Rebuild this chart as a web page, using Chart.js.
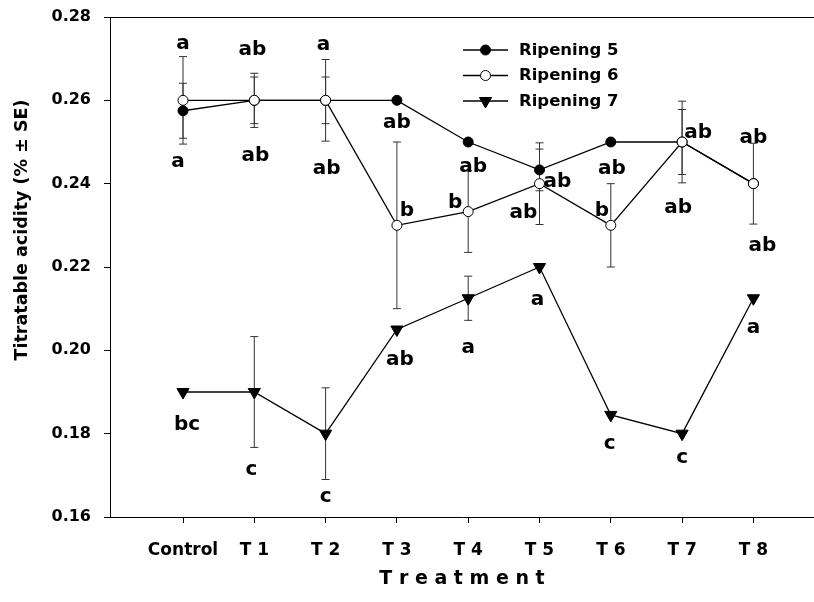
<!DOCTYPE html>
<html>
<head>
<meta charset="utf-8">
<script src="https://cdn.jsdelivr.net/npm/chart.js@4.4.1/dist/chart.umd.min.js"></script>
<style>
  html, body { margin: 0; padding: 0; background: #fff; overflow: hidden; }
  #wrap { width: 814px; height: 602px; position: relative; }
  canvas { display: block; }
</style>
</head>
<body>
<div id="wrap"><canvas id="acid_chart"></canvas></div>
<script>
// data
const treatments = ["Control", "T 1", "T 2", "T 3", "T 4", "T 5", "T 6", "T 7", "T 8"];
const yTicks = [0.16, 0.18, 0.20, 0.22, 0.24, 0.26, 0.28];

const ripening5 = [0.2575, 0.26, 0.26, 0.26, 0.25, 0.2433, 0.25, 0.25, 0.24];
const ripening5Err = [0.0066, 0.0056, 0.0056, 0, 0, 0.005, 0, 0.0078, 0];
const ripening5Letters = ["a", "ab", "ab", "ab", "ab", "ab", "ab", "ab", "ab"];

const ripening6 = [0.26, 0.26, 0.26, 0.23, 0.2333, 0.24, 0.23, 0.25, 0.24];
const ripening6Err = [0.0105, 0.0065, 0.0098, 0.02, 0.0098, 0.0098, 0.01, 0.0098, 0.0097];
const ripening6Letters = ["a", "ab", "a", "b", "b", "ab", "b", "ab", "ab"];

const ripening7 = [0.19, 0.19, 0.18, 0.205, 0.2125, 0.22, 0.1845, 0.18, 0.2125];
const ripening7Err = [0, 0.0133, 0.011, 0, 0.0053, 0, 0, 0, 0];
const ripening7Letters = ["bc", "c", "c", "ab", "a", "a", "c", "c", "a"];

// where each letter sits relative to its point (px)
const offsets5 = [[-5, 51], [1, 53], [1, 66], [0, 20], [5, 22], [18, 10], [1, 24], [16, -12], [0, -48]];
const offsets6 = [[0, -57], [-2, -53], [-2, -56], [10, -17], [-13, -11], [-16, 27], [-9, -17], [-4, 63], [9, 60]];
const offsets7 = [[4, 30], [-3, 77], [0, 63], [3, 28], [0, 49], [-2, 32], [-1, 29], [0, 24], [0, 29]];

const FONT = '"DejaVu Sans", sans-serif';
const toPoints = arr => arr.map((v, i) => ({ x: i, y: v }));

const extras = [
  { err: ripening5Err, letters: ripening5Letters, off: offsets5 },
  { err: ripening6Err, letters: ripening6Letters, off: offsets6 },
  { err: ripening7Err, letters: ripening7Letters, off: offsets7 }
];

const errorBars = {
  id: 'errorBars',
  beforeDatasetsDraw(chart) {
    const ctx = chart.ctx
    const ys = chart.scales.y
    ctx.save()
    ctx.strokeStyle = '#333'
    ctx.lineWidth = 1
    chart.data.datasets.forEach((ds, di) => {
      const meta = chart.getDatasetMeta(di)
      extras[di].err.forEach((e, i) => {
        if (!e) return
        const v = ds.data[i].y
        const x = meta.data[i].x
        const top = ys.getPixelForValue(v + e)
        const bot = ys.getPixelForValue(v - e)
        ctx.beginPath()
        ctx.moveTo(x, top); ctx.lineTo(x, bot)
        ctx.moveTo(x - 4, top); ctx.lineTo(x + 4, top)
        ctx.moveTo(x - 4, bot); ctx.lineTo(x + 4, bot)
        ctx.stroke()
      })
    })
    ctx.restore()
  }
};

function centeredText(ctx, txt, cx, cy) {
  const m = ctx.measureText(txt)
  const asc = m.actualBoundingBoxAscent, desc = m.actualBoundingBoxDescent
  ctx.fillText(txt, cx, cy + (asc - desc) / 2)
}

const decorations = {
  id: 'decorations',
  afterDraw(chart) {
    const ctx = chart.ctx
    const area = chart.chartArea
    ctx.save()

    // top frame line
    ctx.strokeStyle = '#000'
    ctx.lineWidth = 1
    ctx.beginPath()
    ctx.moveTo(area.left, area.top + 0.5)
    ctx.lineTo(area.right, area.top + 0.5)
    ctx.stroke()

    // significance letters
    ctx.fillStyle = '#000'
    ctx.textAlign = 'center'
    ctx.textBaseline = 'alphabetic'
    ctx.font = 'bold 20px ' + FONT
    extras.forEach((ex, di) => {
      const meta = chart.getDatasetMeta(di)
      ex.letters.forEach((l, i) => {
        const p = meta.data[i]
        centeredText(ctx, l, p.x + ex.off[i][0], p.y + ex.off[i][1])
      })
    })

    // legend
    const lx1 = area.left + 353, lx2 = area.left + 398
    chart.data.datasets.forEach((ds, di) => {
      const y = area.top + 33 + di * 25.5
      ctx.strokeStyle = '#000'
      ctx.lineWidth = 1.3
      ctx.beginPath()
      ctx.moveTo(lx1, y); ctx.lineTo(lx2, y)
      ctx.stroke()
      ctx.fillStyle = ds.pointBackgroundColor
      ctx.strokeStyle = '#000'
      ctx.lineWidth = 1
      Chart.helpers.drawPoint(ctx, {
        pointStyle: ds.pointStyle, radius: ds.pointRadius,
        rotation: ds.pointRotation || 0, borderWidth: 1
      }, (lx1 + lx2) / 2, y)
      ctx.fillStyle = '#000'
      ctx.textAlign = 'left'
      ctx.font = 'bold 16.5px ' + FONT
      const m = ctx.measureText(ds.label)
      ctx.fillText(ds.label, lx2 + 11, y + (m.actualBoundingBoxAscent - m.actualBoundingBoxDescent) / 2)
    })

    // axis titles
    ctx.textAlign = 'center'
    ctx.font = 'bold 19px ' + FONT
    centeredText(ctx, 'T r e a t m e n t', (area.left + area.right) / 2, 577)
    ctx.translate(22, 230)
    ctx.rotate(-Math.PI / 2)
    ctx.font = 'bold 17.5px ' + FONT
    centeredText(ctx, 'Titratable acidity (% \u00B1 SE)', 0, 0)
    ctx.restore()
  }
};

const ctx = document.getElementById('acid_chart').getContext('2d')

let acidChart = new Chart(ctx, {
  type: 'line',
  data: {
    datasets: [
      {
        label: 'Ripening 5', data: toPoints(ripening5), order: 1,
        borderColor: '#000', borderWidth: 1.3,
        pointStyle: 'circle', pointRadius: 5, pointBackgroundColor: '#000',
        pointBorderColor: '#000', pointBorderWidth: 1
      },
      {
        label: 'Ripening 6', data: toPoints(ripening6), order: 0,
        borderColor: '#000', borderWidth: 1.3,
        pointStyle: 'circle', pointRadius: 5, pointBackgroundColor: '#fff',
        pointBorderColor: '#000', pointBorderWidth: 1
      },
      {
        label: 'Ripening 7', data: toPoints(ripening7), order: 2,
        borderColor: '#000', borderWidth: 1.3,
        pointStyle: 'triangle', pointRotation: 180, pointRadius: 7,
        pointBackgroundColor: '#000', pointBorderColor: '#000', pointBorderWidth: 1
      }
    ]
  },
  options: {
    responsive: true,
    maintainAspectRatio: false,
    animation: false,
    layout: { autoPadding: false, padding: { top: 17, left: 0, right: 0, bottom: 0 } },
    plugins: {
      legend: { display: false },
      tooltip: { enabled: false }
    },
    scales: {
      x: {
        type: 'linear', min: -1.024, max: 8.85,
        afterBuildTicks: s => { s.ticks = treatments.map((t, i) => ({ value: i })) },
        afterFit: s => { s.height = 85; s.paddingLeft = 0; s.paddingRight = 0 },
        ticks: {
          callback: v => treatments[v], autoSkip: false, maxRotation: 0,
          color: '#000', padding: 17, font: { family: FONT, size: 17, weight: 'bold' }
        },
        grid: { drawOnChartArea: false, drawTicks: true, tickLength: 6, color: '#000' },
        border: { color: '#000', width: 1 }
      },
      y: {
        min: 0.16, max: 0.28,
        afterBuildTicks: s => { s.ticks = yTicks.map(v => ({ value: v })) },
        afterFit: s => { s.width = 110; s.paddingTop = 0; s.paddingBottom = 0 },
        ticks: {
          callback: v => v.toFixed(2),
          color: '#000', padding: 13, font: { family: FONT, size: 16, weight: 'bold' }
        },
        grid: { drawOnChartArea: false, drawTicks: true, tickLength: 6, color: '#000' },
        border: { color: '#000', width: 1 }
      }
    }
  },
  plugins: [errorBars, decorations]
});
</script>
</body>
</html>
